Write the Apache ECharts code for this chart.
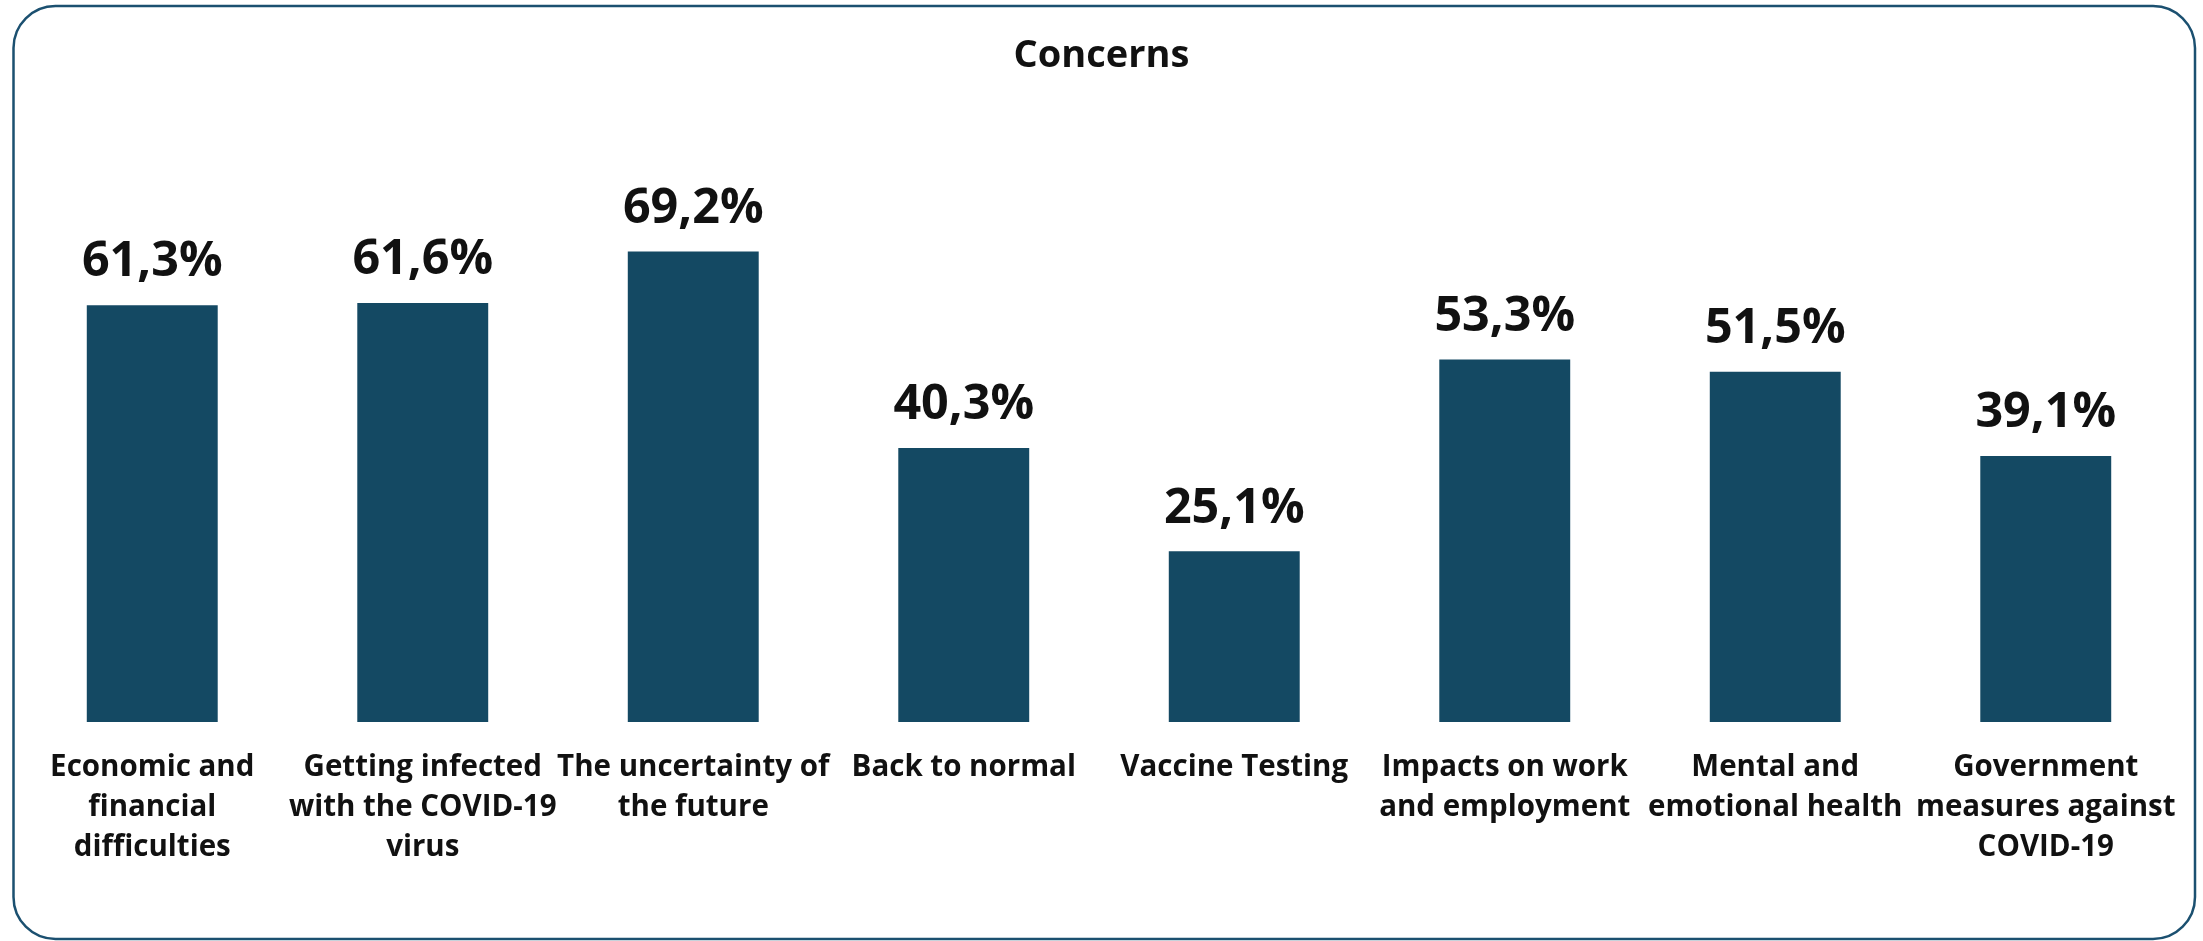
<!DOCTYPE html>
<html>
<head>
<meta charset="utf-8">
<title>Concerns</title>
<script src="https://cdn.jsdelivr.net/npm/echarts@6/dist/echarts.min.js"></script>
<style>
  html, body { margin: 0; padding: 0; background: #ffffff; }
  #chart { width: 2203px; height: 941px; }
</style>
</head>
<body>
<div id="chart"></div>
<script>
// Concern categories (line breaks as displayed under each bar)
const categories = [
  'Economic and\nfinancial\ndifficulties',
  'Getting infected\nwith the COVID-19\nvirus',
  'The uncertainty of\nthe future',
  'Back to normal',
  'Vaccine Testing',
  'Impacts on work\nand employment',
  'Mental and\nemotional health',
  'Government\nmeasures against\nCOVID-19'
];

// Share of respondents (%)
const shares = [61.3, 61.6, 69.2, 40.3, 25.1, 53.3, 51.5, 39.1];

const titleText = 'Concerns';

const FONT = '"Open Sans", "Noto Sans", sans-serif';
const BAR_COLOR = '#144963';
const FRAME_COLOR = '#1b5070';
const TEXT_COLOR = '#111111';

const chart = echarts.init(document.getElementById('chart'), null, { renderer: 'canvas' });

chart.setOption({
  backgroundColor: '#ffffff',
  animation: false,
  title: {
    text: titleText,
    left: 'center',
    top: 32,
    textStyle: { fontFamily: FONT, fontWeight: 'bold', fontSize: 38, color: TEXT_COLOR }
  },
  graphic: [{
    type: 'rect',
    shape: { x: 13.5, y: 6, width: 2181.5, height: 933, r: 42 },
    style: { fill: 'none', stroke: FRAME_COLOR, lineWidth: 2.5 },
    silent: true,
    z: 100
  }],
  grid: {
    left: 17,
    right: 22,
    top: 42,
    bottom: 219,
    containLabel: false,
    outerBoundsMode: 'none'
  },
  xAxis: {
    type: 'category',
    data: categories,
    axisLine: { show: false },
    axisTick: { show: false },
    splitLine: { show: false },
    axisLabel: {
      interval: 0,
      margin: 26,
      fontFamily: FONT,
      fontWeight: 'bold',
      fontSize: 29.5,
      lineHeight: 40,
      color: TEXT_COLOR,
      align: 'center'
    }
  },
  yAxis: {
    type: 'value',
    min: 0,
    max: 100,
    show: false,
    splitLine: { show: false }
  },
  series: [{
    type: 'bar',
    data: shares,
    barWidth: '48.4%',
    itemStyle: { color: BAR_COLOR },
    label: {
      show: true,
      position: 'top',
      distance: 18,
      fontFamily: FONT,
      fontWeight: 'bold',
      fontSize: 48.5,
      color: TEXT_COLOR,
      formatter: (p) => p.value.toFixed(1).replace('.', ',') + '%'
    }
  }]
});
</script>
</body>
</html>
